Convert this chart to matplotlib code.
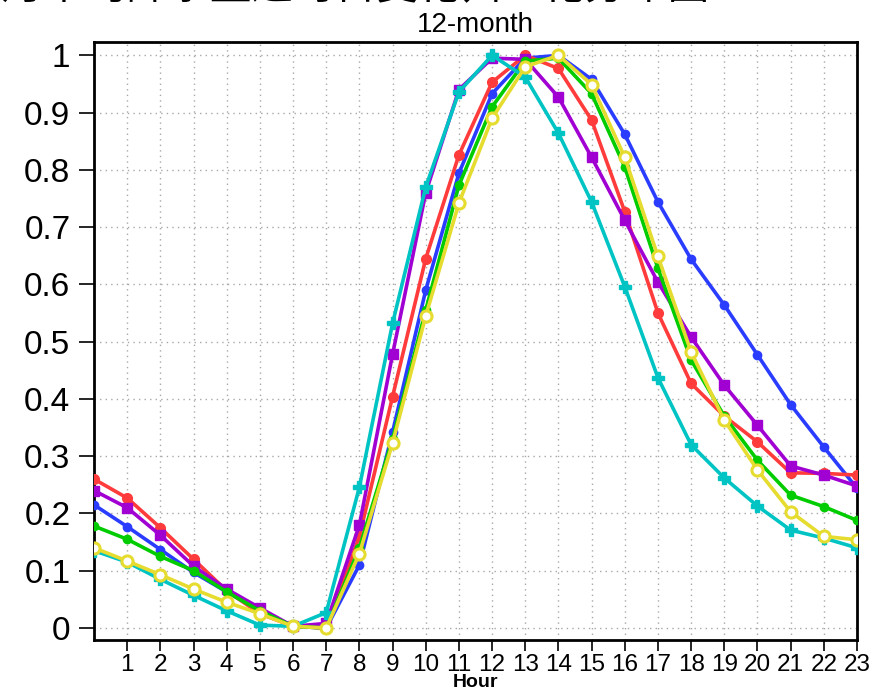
import matplotlib.pyplot as plt

hours = list(range(24))

blue = [0.215, 0.177, 0.137, 0.097, 0.063, 0.030, 0.003, 0.000, 0.110, 0.342, 0.590, 0.794,
        0.933, 0.995, 1.000, 0.958, 0.862, 0.744, 0.644, 0.564, 0.477, 0.390, 0.316, 0.244]
red = [0.260, 0.227, 0.175, 0.120, 0.065, 0.025, 0.003, 0.000, 0.160, 0.404, 0.645, 0.826,
       0.953, 1.000, 0.977, 0.887, 0.727, 0.550, 0.427, 0.370, 0.325, 0.271, 0.270, 0.267]
purple = [0.240, 0.210, 0.162, 0.108, 0.068, 0.035, 0.003, 0.008, 0.180, 0.478, 0.760, 0.940,
          0.995, 0.993, 0.927, 0.822, 0.712, 0.604, 0.508, 0.424, 0.354, 0.283, 0.267, 0.248]
green = [0.178, 0.155, 0.125, 0.100, 0.063, 0.030, 0.003, 0.000, 0.140, 0.330, 0.555, 0.773,
         0.910, 0.990, 0.995, 0.933, 0.805, 0.628, 0.468, 0.370, 0.293, 0.232, 0.212, 0.188]
cyan = [0.135, 0.115, 0.085, 0.057, 0.030, 0.005, 0.003, 0.027, 0.246, 0.532, 0.770, 0.936,
        1.000, 0.962, 0.864, 0.744, 0.596, 0.437, 0.320, 0.262, 0.213, 0.171, 0.157, 0.140]
yellow = [0.140, 0.117, 0.093, 0.068, 0.045, 0.025, 0.003, 0.000, 0.130, 0.323, 0.545, 0.742,
          0.890, 0.980, 1.000, 0.949, 0.822, 0.649, 0.482, 0.363, 0.276, 0.203, 0.160, 0.154]

font = ['Liberation Sans', 'DejaVu Sans']

fig = plt.figure(figsize=(8.83, 6.92), dpi=100)
ax = fig.add_axes([0.1065, 0.0751, 0.864, 0.864])

lw = 2.6
ax.plot(hours, blue, color='#2a3cff', lw=lw, marker='o', ms=6, zorder=3)
ax.plot(hours, red, color='#ff3b3b', lw=lw, marker='o', ms=7, zorder=3)
ax.plot(hours, purple, color='#a000d2', lw=lw, marker='s', ms=7, zorder=3)
ax.plot(hours, green, color='#00cc00', lw=lw, marker='o', ms=6, zorder=3)
ax.plot(hours, cyan, color='#00c4c4', lw=lw, marker='P', ms=8, zorder=4)
ax.plot(hours, yellow, color='#e6dc30', lw=lw, marker='o', ms=8, mfc='white',
        mew=2.2, zorder=5)

ax.set_xlim(0, 23)
ax.set_ylim(-0.021, 1.023)
ax.set_xticks(range(1, 24))
ax.set_xticklabels([str(h) for h in range(1, 24)])
yt = [i / 10 for i in range(11)]
ax.set_yticks(yt)
ax.set_yticklabels(['0'] + ['0.%d' % i for i in range(1, 10)] + ['1'])

ax.grid(True, color='#a8a8a8', linestyle=(0, (1, 3)), linewidth=1.0)

for s in ax.spines.values():
    s.set_linewidth(2)
ax.tick_params(axis='x', direction='out', length=8, width=1.2, pad=2,
               labelsize=17.5, labelfontfamily=font)
ax.tick_params(axis='y', direction='out', length=11, width=1.2, pad=6,
               labelsize=24, labelfontfamily=font)

ax.text(0.5, -0.071, 'Hour', transform=ax.transAxes, ha='center', va='center',
        fontsize=14, family=font, fontweight='bold')
ax.set_title('12-month', fontsize=20, pad=7, family=font)

fig.text(0.38, 1.018, '各月平均降水量逐时日变化归一化分布图', ha='center', va='center',
         fontsize=30, family=['Noto Sans CJK SC', 'DejaVu Sans'])

fig.savefig('out.png', dpi=100)
